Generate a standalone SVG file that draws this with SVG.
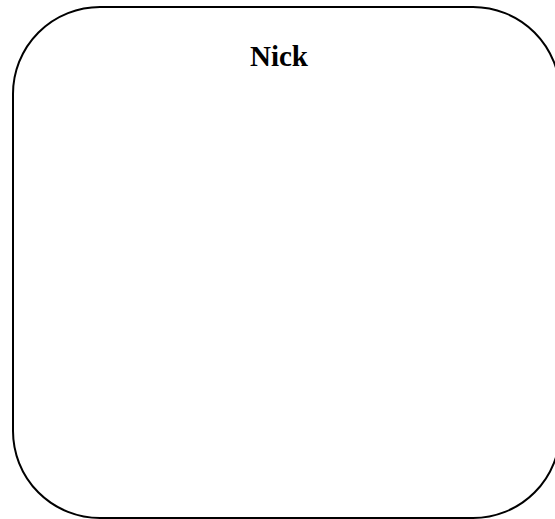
<svg xmlns="http://www.w3.org/2000/svg" width="555" height="519" viewBox="0 0 555 519">
<style>
.box{fill:#fff;stroke:#000;stroke-width:2}
.lbl{font-family:"Liberation Serif","Times New Roman",serif;font-weight:bold;font-size:29px;fill:#000;text-anchor:middle}
</style>
<rect width="555" height="519" fill="#fff"/>
<g id="nick">
<rect class="box" x="13" y="7" width="547" height="511" rx="87" ry="87"/>
<text class="lbl" x="279" y="66">Nick</text>
</g>
<g id="connectors"/>
</svg>
